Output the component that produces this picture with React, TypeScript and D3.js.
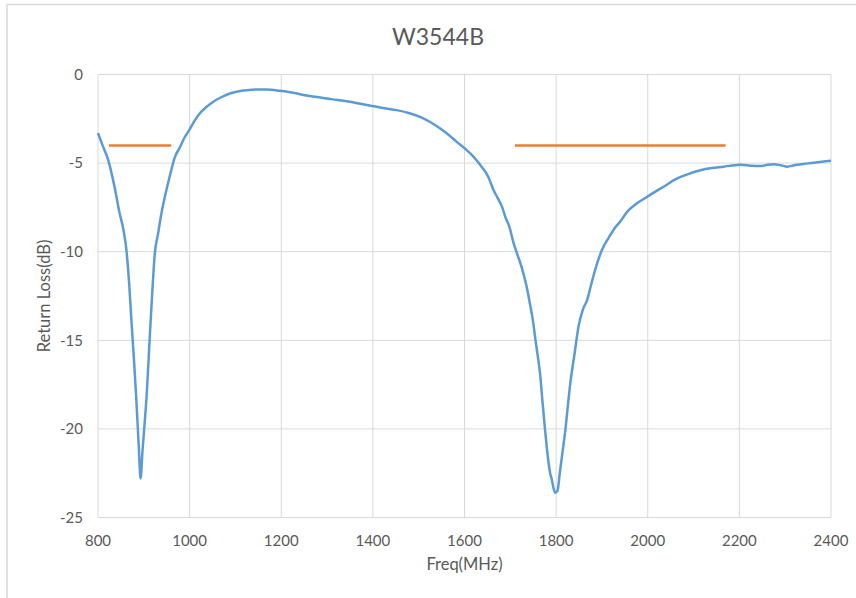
import React from "react";
import * as d3 from "d3";

const title = "W3544B";
const xLabel = "Freq(MHz)";
const yLabel = "Return Loss(dB)";
const xTicks = [800, 1000, 1200, 1400, 1600, 1800, 2000, 2200, 2400];
const yTicks = [0, -5, -10, -15, -20, -25];

const freq = [
  800, 810, 822, 835, 847, 855, 862, 868, 873, 879, 884, 889, 893, 897, 902, 906,
  913, 918, 924, 931, 938, 946, 957, 968, 979, 988, 1000, 1011, 1022, 1036, 1051,
  1070, 1088, 1105, 1124, 1145, 1168, 1197, 1220, 1241, 1270, 1299, 1320, 1343,
  1370, 1401, 1425, 1452, 1478, 1503, 1525, 1547, 1565, 1583, 1602, 1620, 1634,
  1652, 1663, 1672, 1682, 1690, 1698, 1707, 1716, 1725, 1735, 1744, 1750, 1755,
  1760, 1765, 1770, 1776, 1782, 1787, 1790, 1794, 1798, 1803, 1808, 1814, 1820,
  1826, 1831, 1840, 1849, 1858, 1868, 1878, 1889, 1900, 1915, 1927, 1940, 1955,
  1975, 1999, 2020, 2040, 2057, 2085, 2115, 2140, 2166, 2185, 2203, 2225, 2246,
  2260, 2275, 2290, 2305, 2320, 2340, 2363, 2380, 2400,
];
const returnLoss = [
  -3.3, -4.0, -4.8, -6.2, -7.8, -8.7, -9.9, -11.8, -13.9, -16.3, -18.5, -21.0, -22.8, -21.3, -19.6, -18.2,
  -14.8, -12.5, -10.1, -9.0, -7.9, -6.9, -5.7, -4.65, -4.1, -3.6, -3.1, -2.6, -2.2, -1.85, -1.55,
  -1.27, -1.07, -0.96, -0.89, -0.85, -0.85, -0.92, -1.0, -1.11, -1.24, -1.36, -1.43, -1.51,
  -1.64, -1.79, -1.9, -2.01, -2.17, -2.39, -2.68, -3.05, -3.4, -3.8, -4.2, -4.65, -5.1,
  -5.78, -6.5, -6.95, -7.47, -8.1, -8.6, -9.5, -10.2, -10.9, -11.9, -13.1, -14.0, -15.0,
  -15.9, -16.9, -18.4, -20.1, -21.6, -22.5, -22.8, -23.3, -23.6, -23.5, -22.5, -21.3, -20.1,
  -18.6, -17.4, -15.8, -14.2, -13.3, -12.7, -11.7, -10.7, -9.9, -9.2, -8.7, -8.3, -7.75,
  -7.3, -6.9, -6.55, -6.25, -5.96, -5.65, -5.4, -5.28, -5.2, -5.13, -5.1, -5.15, -5.17,
  -5.1, -5.06, -5.12, -5.2, -5.12, -5.05, -4.98, -4.92, -4.87,
];
// band limit markers at -4 dB
const bandStart = [824, 1710];
const bandEnd = [960, 2170];
const bandLevel = [-4, -4];

const W = 856;
const H = 598;
const left = 98;
const right = 831;
const top = 74.5;
const bottom = 517.5;
const font = "Lato, 'Open Sans', sans-serif";
const textColor = "#595959";

export default function App() {
  const x = d3.scaleLinear().domain([800, 2400]).range([left, right]);
  const y = d3.scaleLinear().domain([-25, 0]).range([bottom, top]);
  const pts = freq.map((f, i) => [f, returnLoss[i]] as [number, number]);
  const line = d3
    .line<[number, number]>()
    .x((d) => x(d[0]))
    .y((d) => y(d[1]))
    .curve(d3.curveMonotoneX);

  return (
    <svg
      width={W}
      height={H}
      style={{ position: "absolute", left: 0, top: 0, background: "#fff" }}
    >
      <rect x={7} y={4.5} width={W + 20} height={H + 20} fill="#fff" stroke="#d9d9d9" strokeWidth={1.5} />
      <text x={438} y={45} textAnchor="middle" fontFamily={font} fontSize={23} fill={textColor}>
        {title}
      </text>
      {yTicks.map((t) => (
        <line key={"gy" + t} x1={left} x2={right} y1={y(t)} y2={y(t)} stroke="#d9d9d9" strokeWidth={1} />
      ))}
      {xTicks.map((t) => (
        <line key={"gx" + t} x1={x(t)} x2={x(t)} y1={top} y2={bottom} stroke="#d9d9d9" strokeWidth={1} />
      ))}
      {yTicks.map((t) => (
        <text key={"ty" + t} x={83} y={y(t)} dy="0.35em" textAnchor="end" fontFamily={font} fontSize={15} fill={textColor}>
          {t}
        </text>
      ))}
      {xTicks.map((t) => (
        <text key={"tx" + t} x={x(t)} y={546} textAnchor="middle" fontFamily={font} fontSize={15} fill={textColor}>
          {t}
        </text>
      ))}
      <text x={(left + right) / 2} y={570} textAnchor="middle" fontFamily={font} fontSize={16.5} fill={textColor}>
        {xLabel}
      </text>
      <text
        transform={`translate(50, ${(top + bottom) / 2}) rotate(-90)`}
        textAnchor="middle"
        fontFamily={font}
        fontSize={16.5}
        fill={textColor}
      >
        {yLabel}
      </text>
      {bandStart.map((s, i) => (
        <line
          key={"b" + i}
          x1={x(s)}
          x2={x(bandEnd[i])}
          y1={y(bandLevel[i])}
          y2={y(bandLevel[i])}
          stroke="#ed7d31"
          strokeWidth={2.5}
        />
      ))}
      <path d={line(pts) || ""} fill="none" stroke="#5b9bd5" strokeWidth={2.5} strokeLinejoin="round" />
    </svg>
  );
}
